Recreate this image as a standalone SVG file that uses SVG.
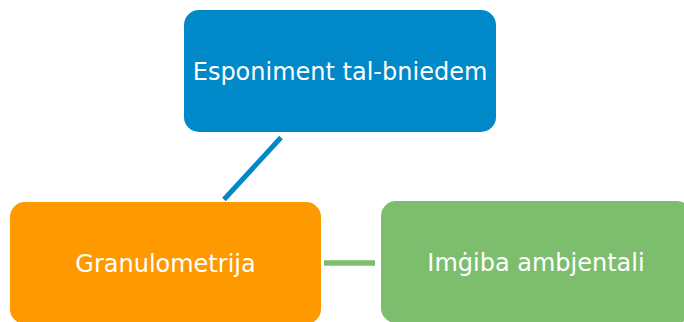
<svg xmlns="http://www.w3.org/2000/svg" width="684" height="322" viewBox="0 0 684 322">
<style>
.lbl{font-family:"DejaVu Sans","Verdana",sans-serif;font-size:24px;fill:#ffffff;text-anchor:middle}
</style>
<rect width="684" height="322" fill="#ffffff"/>
<g id="connectors">
<line x1="281" y1="137.5" x2="224" y2="199.5" stroke="#0088C8" stroke-width="5"/>
<line x1="324" y1="263" x2="375" y2="263" stroke="#7DBE6E" stroke-width="5.5"/>
</g>
<g id="node-esponiment">
<rect x="184" y="10" width="312" height="122" rx="15" fill="#0088C8"/>
<text class="lbl" x="340" y="79.5">Esponiment tal-bniedem</text>
</g>
<g id="node-granulometrija">
<rect x="10" y="202" width="311" height="122" rx="15" fill="#FF9900"/>
<text class="lbl" x="165.5" y="272">Granulometrija</text>
</g>
<g id="node-imgiba">
<rect x="381" y="201" width="311" height="122" rx="15" fill="#7DBE6E"/>
<text class="lbl" x="536" y="271">Imġiba ambjentali</text>
</g>
</svg>
